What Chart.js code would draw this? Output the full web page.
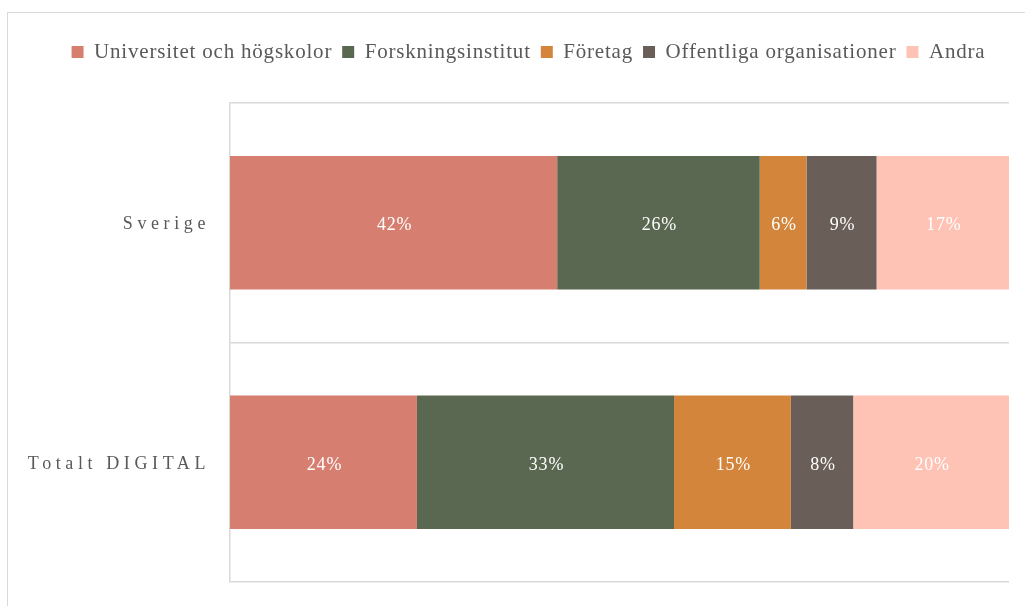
<!DOCTYPE html>
<html>
<head>
<meta charset="utf-8">
<script src="https://cdn.jsdelivr.net/npm/chart.js@4"></script>
<style>
  body { margin: 0; background: #fff; }
  #wrap { position: relative; width: 1025px; height: 606px; overflow: hidden; }
  #frame { position: absolute; left: 7px; top: 12px; width: 1040px; height: 620px; border: 1px solid #d9d9d9; pointer-events: none; }
  canvas { position: absolute; left: 0; top: 0; }
</style>
</head>
<body>
<div id="wrap">
  <div id="frame"></div>
  <canvas id="chart" width="1025" height="606"></canvas>
</div>
<script>
const categories = ["Sverige", "Totalt DIGITAL"];
const seriesNames = ["Universitet och högskolor", "Forskningsinstitut", "Företag", "Offentliga organisationer", "Andra"];
const colors = ["#d67f70", "#5b6851", "#d4853c", "#6a5f58", "#ffc3b5"];

const universitet = [42, 24];
const forskning = [26, 33];
const foretag = [6, 15];
const offentliga = [9, 8];
const andra = [17, 20];

const values = [universitet, forskning, foretag, offentliga, andra];

const serif = "'Liberation Serif', 'DejaVu Serif', serif";
const baseSpacing = "0.8px";

// white percentage labels in the middle of each bar
const barLabels = {
  id: "barLabels",
  afterDatasetsDraw(chart) {
    const ctx = chart.ctx;
    ctx.save();
    ctx.fillStyle = "#ffffff";
    ctx.font = "18px " + serif;
    ctx.textAlign = "center";
    ctx.textBaseline = "middle";
    chart.data.datasets.forEach((ds, i) => {
      chart.getDatasetMeta(i).data.forEach((bar, j) => {
        const p = bar.getProps(["x", "y", "base"], true);
        ctx.fillText(ds.data[j] + "%", (p.x + p.base) / 2 + 1, p.y + 3);
      });
    });
    ctx.restore();
  }
};

// text spacing, legend spacing and letter spaced category labels
const tweaks = {
  id: "tweaks",
  beforeInit(chart) {
    const lg = chart.legend;
    if (lg) {
      const fit = lg.fit;
      lg.fit = function () {
        fit.call(this);
        this.height += 30.5;
      };
    }
  },
  beforeUpdate(chart) { chart.ctx.letterSpacing = baseSpacing; },
  beforeDraw(chart) { chart.ctx.letterSpacing = baseSpacing; },
  afterLayout(chart) {
    // legend sits a little right of canvas centre in the original
    if (chart.legend) {
      chart.legend.left += 24;
      chart.legend.right += 24;
    }
    const s = chart.scales.y;
    if (s && !s._spaced) {
      const orig = s.drawLabels;
      s.drawLabels = function (area) {
        this.ctx.save();
        this.ctx.letterSpacing = "4.6px";
        this.ctx.translate(0, 2);
        orig.call(this, area);
        this.ctx.restore();
      };
      s._spaced = true;
    }
  }
};

new Chart(document.getElementById("chart"), {
  type: "bar",
  data: {
    labels: categories,
    datasets: seriesNames.map((name, i) => ({
      label: name,
      data: values[i],
      backgroundColor: colors[i],
      borderWidth: 0,
      categoryPercentage: 1,
      barPercentage: 0.558
    }))
  },
  options: {
    indexAxis: "y",
    responsive: false,
    animation: false,
    layout: { padding: { top: 31.5, left: 0, right: 16, bottom: 24 } },
    scales: {
      x: { display: false, stacked: true, min: 0, max: 100 },
      y: {
        stacked: true,
        afterFit(scale) {
          scale.width = 230;
          scale.paddingTop = 0;
          scale.paddingBottom = 0;
        },
        grid: { color: "#d9d9d9", lineWidth: 1.5, drawTicks: false },
        border: { color: "#d9d9d9", width: 1.5 },
        ticks: { color: "#595959", font: { family: serif, size: 18 }, padding: 20 }
      }
    },
    plugins: {
      legend: {
        position: "top",
        labels: {
          color: "#595959",
          font: { family: serif, size: 21 },
          boxWidth: 12,
          boxHeight: 12,
          padding: 10,
          useBorderRadius: false
        }
      },
      tooltip: { enabled: false }
    }
  },
  plugins: [barLabels, tweaks]
});
</script>
</body>
</html>
